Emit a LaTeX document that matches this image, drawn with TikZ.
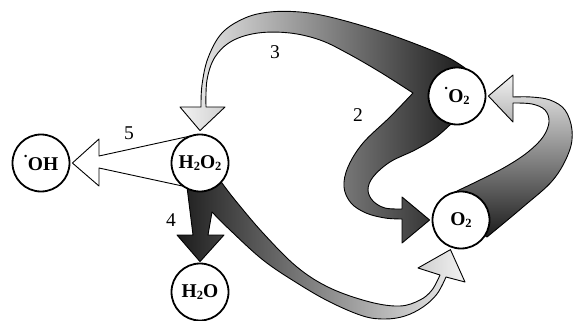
\documentclass[tikz,border=0pt]{standalone}
\usepackage{fontspec}
\setmainfont{Liberation Serif}
\usetikzlibrary{calc}
\pgfdeclarelayer{bg}
\pgfsetlayers{bg,main}
\definecolor{gd}{gray}{0.11}
\definecolor{gl}{gray}{0.95}
\newcommand\mysub[1]{\raisebox{-0.3ex}{\fontsize{12.5}{12.5}\selectfont #1}}
\newcommand\myrad{\raisebox{0.64em}{\fontsize{15}{15}\selectfont\bfseries .}\kern0.3pt}
\begin{document}
\begin{tikzpicture}[x=1pt,y=-1pt,
  chem/.style={circle,draw,line width=1.8pt,fill=white,minimum size=57pt,inner sep=0pt,
    font=\fontsize{19.5}{20}\selectfont\bfseries},
  band/.style={draw=black,line width=0.9pt,line join=round},
  lab/.style={font=\fontsize{19.5}{20}\selectfont}]
\useasboundingbox (0,0) rectangle (584,321);
% nodes
\node[chem] (noh) at (41,163) {\myrad OH};
\node[chem] (nhp) at (200,163) {H\mysub{2}O\mysub{2}};
\node[chem] (nw) at (200,292) {H\mysub{2}O};
\node[chem] (nso) at (457,96) {\myrad O\mysub{2}};
\node[chem] (no) at (461,220) {O\mysub{2}};
% tips
\coordinate (t5) at ($(noh.east)+(2,0)$);
\coordinate (t4) at ($(nw.north)+(0,-1)$);
\coordinate (t3) at ($(nhp.north)+(0,-3)$);
\coordinate (t2) at ($(no.west)+(-2,0)$);
\coordinate (t7) at ($(no.-110)+(-0.5,2)$);
\coordinate (t6) at ($(nso.east)+(2,0)$);
\begin{pgfonlayer}{bg}
% arrows 3 and 2 from superoxide
\path[band, left color=gl, right color=gd]
 (nso.center) -- (465,68)
 -- plot[smooth,tension=0.6] coordinates {(465,68) (447,57) (413,43) (373,29) (330,17) (300,12) (270,12) (245,18) (222,33) (208,58) (202,85) (201,107)}
 -- (180,107) -- (t3) -- (225,107) -- (206,107)
 -- plot[smooth,tension=0.6] coordinates {(206,107) (207,80) (215,57) (232,41) (258,33) (290,33) (320,40) (347,53) (380,72) (413,93)}
 -- plot[smooth,tension=0.6] coordinates {(413,93) (390,117) (363,143) (348,167) (344,187) (351,203) (366,213) (385,218) (402,219)}
 -- (402,243) -- (t2) -- (402,197) -- (402,209)
 -- plot[smooth,tension=0.6] coordinates {(402,209) (385,208) (373,201) (368,190) (373,177) (390,162) (415,150) (435,138) (452,123)}
 -- cycle;
% arrow from O2 to superoxide
\path[band, top color=gl, bottom color=gd]
 (no.center) -- (457,191)
 -- plot[smooth,tension=0.6] coordinates {(457,191) (482,179) (507,166) (528,152) (543,137) (549,122) (545,110) (532,104) (513,103)}
 -- (513,122) -- (t6) -- (513,75) -- (513,97)
 -- plot[smooth,tension=0.6] coordinates {(513,97) (531,97) (550,100) (565,110) (572,130) (569,152) (553,180) (523,207) (487,237)}
 -- cycle;
% arrows 4 and to O2 from H2O2
\path[band, left color=gd, right color=gl]
 (nhp.center) -- (187,187) -- (193,235) -- (177,235) -- (t4) -- (224,235) -- (208,235) -- (212,212)
 -- plot[smooth,tension=0.6] coordinates {(212,212) (230,230) (263,260) (297,283) (330,302) (363,316) (385,319) (405,316) (423,307) (437,294) (446,277)}
 -- (465,282) -- (t7) -- (418,268) -- (440,275)
 -- plot[smooth,tension=0.6] coordinates {(440,275) (432,290) (420,300) (400,306) (370,302) (330,288) (297,267) (263,233) (235,200) (222,183)}
 -- cycle;
% arrow 5
\path[band, fill=white] (nhp.center) -- (195,135) -- (99,156) -- (99,139) -- (t5) -- (99,186) -- (99,168) -- (187,187) -- cycle;
\end{pgfonlayer}
% labels
\node[lab] (l5) at (129,133) {5};
\node[lab] (l4) at (171,220) {4};
\node[lab] (l3) at (275,52) {3};
\node[lab] (l2) at (358,115) {2};
\end{tikzpicture}
\end{document}
